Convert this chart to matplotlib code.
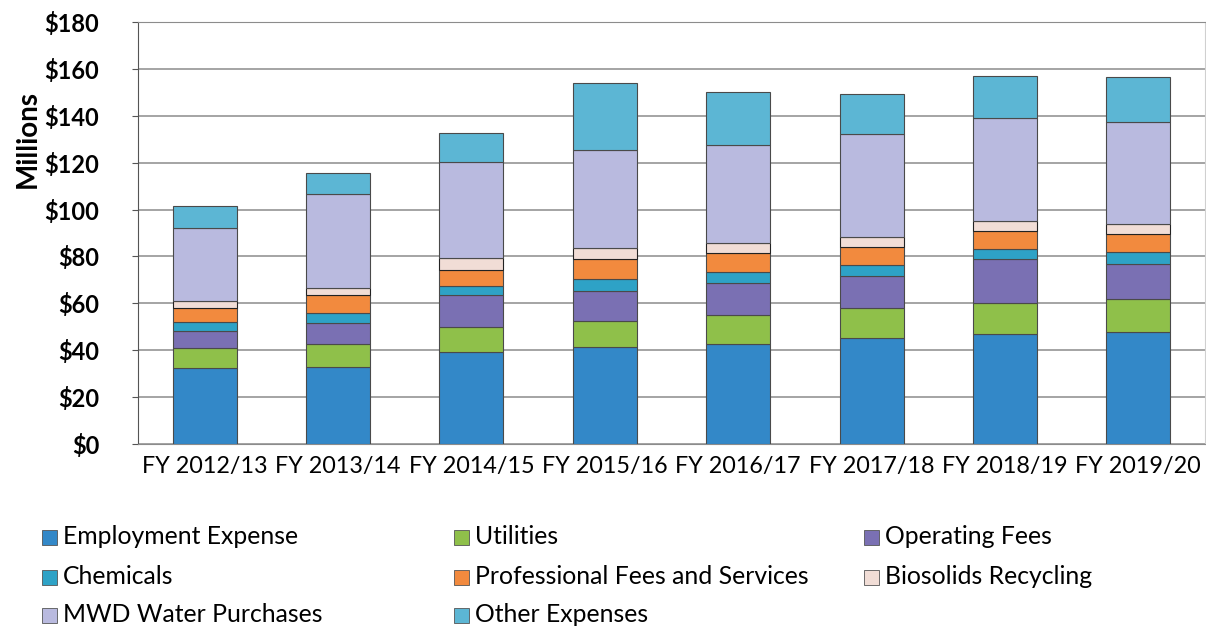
import matplotlib.pyplot as plt
from matplotlib.patches import Rectangle
import numpy as np

plt.rcParams['font.family'] = ['Lato', 'DejaVu Sans']

years = ['FY 2012/13', 'FY 2013/14', 'FY 2014/15', 'FY 2015/16',
         'FY 2016/17', 'FY 2017/18', 'FY 2018/19', 'FY 2019/20']

# $ millions (bottom to top)
employment = [32.5, 33.0, 39.4, 41.2, 42.7, 45.1, 46.9, 47.9]
utilities = [8.3, 9.7, 10.6, 11.4, 12.3, 12.8, 13.4, 13.8]
operating = [7.6, 9.1, 13.6, 12.6, 13.8, 13.8, 18.5, 14.9]
chemicals = [3.8, 4.0, 3.8, 5.0, 4.4, 4.7, 4.3, 5.2]
professional = [6.0, 7.8, 6.8, 8.9, 8.1, 7.8, 7.9, 7.6]
biosolids = [2.9, 3.0, 5.0, 4.6, 4.6, 4.0, 4.1, 4.5]
mwd = [31.0, 40.0, 41.0, 41.9, 41.7, 44.1, 43.8, 43.6]
other = [9.5, 9.0, 12.5, 28.2, 22.7, 17.0, 18.1, 19.0]

series = [
    ('Employment Expense', employment, '#3388c8'),
    ('Utilities', utilities, '#8fc04a'),
    ('Operating Fees', operating, '#7a70b3'),
    ('Chemicals', chemicals, '#2ea2c6'),
    ('Professional Fees and Services', professional, '#f28a3e'),
    ('Biosolids Recycling', biosolids, '#f1ddd6'),
    ('MWD Water Purchases', mwd, '#b9badf'),
    ('Other Expenses', other, '#5cb6d4'),
]

fig = plt.figure(figsize=(12.06, 6.28), dpi=100)
ax = fig.add_axes([138 / 1206, 1 - 444 / 628, 1067 / 1206, 422 / 628])

x = np.arange(len(years))
bottom = np.zeros(len(years))
for name, vals, color in series:
    edge = '#222222' if name == 'Biosolids Recycling' else '#4a4a4a'
    ax.bar(x, vals, 0.48, bottom=bottom, color=color, edgecolor=edge,
           linewidth=0.8, label=name, zorder=3)
    bottom += np.array(vals)

ax.set_xlim(-0.5, len(years) - 0.5)
ax.set_ylim(0, 180)
ax.set_yticks(range(0, 181, 20))
ax.set_yticklabels(['$%d' % v for v in range(0, 181, 20)],
                   fontsize=17, fontweight='bold')
ax.set_xticks(x)
ax.set_xticklabels(years, fontsize=16.8)
ax.tick_params(axis='y', length=4, pad=24, color='#555555')
ax.tick_params(axis='x', length=0, pad=9)
ax.yaxis.grid(True, color='#8c8c8c', linewidth=1.1, zorder=0)
ax.set_axisbelow(True)
for side in ['top', 'bottom']:
    ax.spines[side].set_color('#8c8c8c')
ax.spines['right'].set_color('#d0d0d0')
ax.spines['left'].set_color('#555555')

ax.set_ylabel('Millions', fontsize=20, fontweight='bold')
ax.yaxis.set_label_coords(-0.091, 0.723)

# legend laid out in three columns, filled row by row
text_x = [63, 475, 885]
row_y = [537, 577, 615]
for i, (name, vals, color) in enumerate(series):
    r, c = divmod(i, 3)
    yc = 1 - row_y[r] / 628
    fig.patches.append(Rectangle(((text_x[c] - 21) / 1206, yc - 7.5 / 628),
                                 15 / 1206, 15 / 628, transform=fig.transFigure,
                                 facecolor=color, edgecolor='#555555', linewidth=0.6))
    fig.text(text_x[c] / 1206, yc, name, fontsize=17.8, va='center', ha='left')

fig.savefig('out.png', dpi=100)
